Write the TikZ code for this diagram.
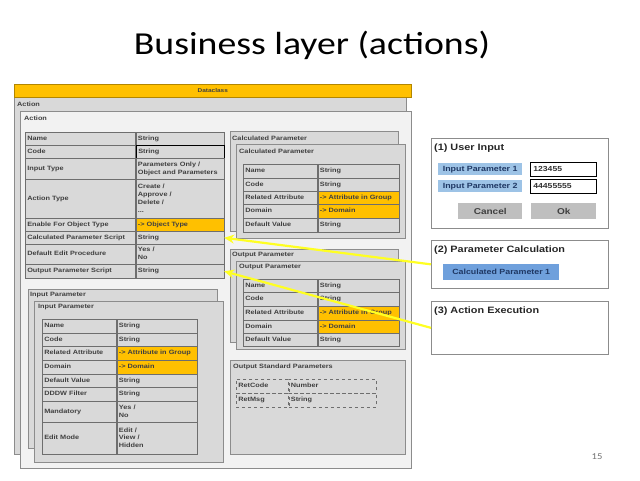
\documentclass[tikz,border=0pt]{standalone}
\usepackage{fontspec}
\setmainfont[FakeStretch=1.18]{Liberation Sans}
\newfontfamily\titlefont[FakeStretch=1.18]{Carlito}
\usepackage{tikz}
\usetikzlibrary{arrows.meta}
\definecolor{classbar}{HTML}{FFC000}
\definecolor{boxgray}{HTML}{D9D9D9}
\definecolor{boxlight}{HTML}{F2F2F2}
\definecolor{boxline}{HTML}{8C8C8C}
\definecolor{cellline}{HTML}{6E6E6E}
\definecolor{tabtext}{HTML}{404040}
\definecolor{reforange}{HTML}{FFC000}
\definecolor{parblue}{HTML}{9DC3E6}
\definecolor{calcblue}{HTML}{6FA0DC}
\definecolor{navytext}{HTML}{1F3864}
\definecolor{hintyellow}{HTML}{FFFF22}
\newcommand{\tabfont}{\fontsize{6.2}{7.8}\selectfont\bfseries}
\tikzset{
  frm/.style 2 args={rectangle, draw=boxline, fill=boxgray, line width=0.6pt,
              anchor=north west, inner sep=0pt, minimum width=#1pt, minimum height=#2pt},
  frmlight/.style 2 args={frm={#1}{#2}, fill=boxlight},
  cell/.style 2 args={rectangle, draw=cellline, fill=boxgray, line width=0.6pt,
              anchor=north west, inner xsep=2pt, inner ysep=0pt, text width=#1pt-4pt,
              minimum height=#2pt, align=left, font=\tabfont, text=tabtext,
              execute at begin node=\strut, execute at end node=\strut},
  refcell/.style 2 args={cell={#1}{#2}, fill=reforange},
  stdcell/.style 2 args={cell={#1}{#2}, fill=none, dashed},
  hdr/.style={anchor=west, inner sep=0pt, font=\tabfont, text=tabtext},
  panel/.style 2 args={rectangle, draw=boxline, fill=white, line width=0.7pt,
              anchor=north west, inner sep=0pt, minimum width=#1pt, minimum height=#2pt},
  ptitle/.style={anchor=west, inner sep=0pt, font=\fontsize{9.2}{10}\selectfont\bfseries, text=black!85},
  parlbl/.style 2 args={rectangle, fill=parblue, anchor=north west, inner sep=0pt,
              minimum width=#1pt, minimum height=#2pt, font=\fontsize{7.5}{8}\selectfont\bfseries, text=navytext},
  field/.style 2 args={rectangle, draw=black, fill=white, line width=0.7pt, anchor=north west,
              inner xsep=3pt, inner ysep=0pt, text width=#1pt-6pt, minimum height=#2pt,
              align=left, font=\fontsize{7.3}{8}\selectfont\bfseries, text=black!80},
  btn/.style 2 args={rectangle, fill=black!25, anchor=north west, inner sep=0pt,
              minimum width=#1pt, minimum height=#2pt, font=\fontsize{8.5}{9}\selectfont\bfseries, text=black!75},
  hint/.style={-{Stealth[length=10pt, width=9pt]}, line width=2.2pt, hintyellow},
}

\begin{document}
\begin{tikzpicture}[x=1pt, y=-1pt]
  \useasboundingbox[fill=white] (0,0) rectangle (640,480);
  % title
  \node[font=\titlefont\fontsize{32}{38}\selectfont] (title) at (312,45) {Business layer (actions)};
  % dataclass and action frames
  \node[frm={392}{357}] (actouter) at (14,97) {};
  \node[frm={397}{13}, fill=classbar, draw=classbar!70!black] (dclass) at (14,84) {};
  \node[font=\fontsize{5.5}{6}\selectfont\bfseries, text=tabtext] (dclasslbl) at (dclass.center) {Dataclass};
  \node[hdr] (actouterlbl) at (17,104) {Action};
  \node[frmlight={391}{357}] (actinner) at (20,111) {};
  \node[hdr] (actinnerlbl) at (24,118) {Action};
  % action table
  \node[cell={110}{13}] (actnamek) at (25,132) {Name};
  \node[cell={88}{13}] (actnamev) at (actnamek.north east) {String};
  \node[cell={110}{13}] (actcodek) at (25,145) {Code};
  \node[cell={88}{13}, draw=black, line width=1.3pt] (actcodev) at (actcodek.north east) {String};
  \node[cell={110}{21}] (acttypek) at (25,158) {Input Type};
  \node[cell={88}{21}] (acttypev) at (acttypek.north east) {Parameters Only /\\Object and Parameters};
  \node[cell={110}{39}] (actkindk) at (25,179) {Action Type};
  \node[cell={88}{39}] (actkindv) at (actkindk.north east) {Create /\\Approve /\\Delete /\\...};
  \node[cell={110}{13}] (actobjk) at (25,218) {Enable For Object Type};
  \node[refcell={88}{13}] (actobjv) at (actobjk.north east) {-> Object Type};
  \node[cell={110}{13}] (actcalck) at (25,231) {Calculated Parameter Script};
  \node[cell={88}{13}] (actcalcv) at (actcalck.north east) {String};
  \node[cell={110}{20}] (actedk) at (25,244) {Default Edit Procedure};
  \node[cell={88}{20}] (actedv) at (actedk.north east) {Yes /\\No};
  \node[cell={110}{14}] (actoutk) at (25,264) {Output Parameter Script};
  \node[cell={88}{14}] (actoutv) at (actoutk.north east) {String};
  % calculated parameter
  \node[frm={168}{100}] (calcouter) at (230,131) {};
  \node[hdr] (calcouterlbl) at (232,138) {Calculated Parameter};
  \node[frm={169}{94}] (calcinner) at (236,144) {};
  \node[hdr] (calcinnerlbl) at (239,151) {Calculated Parameter};
  \node[cell={74}{14}] (calcnamek) at (243,164) {Name};
  \node[cell={81}{14}] (calcnamev) at (calcnamek.north east) {String};
  \node[cell={74}{13}] (calccodek) at (243,178) {Code};
  \node[cell={81}{13}] (calccodev) at (calccodek.north east) {String};
  \node[cell={74}{13}] (calcrelk) at (243,191) {Related Attribute};
  \node[refcell={81}{13}] (calcrelv) at (calcrelk.north east) {-> Attribute in Group};
  \node[cell={74}{14}] (calcdomk) at (243,204) {Domain};
  \node[refcell={81}{14}] (calcdomv) at (calcdomk.north east) {-> Domain};
  \node[cell={74}{14}] (calcdefk) at (243,218) {Default Value};
  \node[cell={81}{14}] (calcdefv) at (calcdefk.north east) {String};
  % output parameter
  \node[frm={168}{93}] (outouter) at (230,249) {};
  \node[hdr] (outouterlbl) at (232,255) {Output Parameter};
  \node[frm={169}{88}] (outinner) at (236,261) {};
  \node[hdr] (outinnerlbl) at (239,267) {Output Parameter};
  \node[cell={74}{13}] (outnamek) at (243,279) {Name};
  \node[cell={81}{13}] (outnamev) at (outnamek.north east) {String};
  \node[cell={74}{14}] (outcodek) at (243,292) {Code};
  \node[cell={81}{14}] (outcodev) at (outcodek.north east) {String};
  \node[cell={74}{14}] (outrelk) at (243,306) {Related Attribute};
  \node[refcell={81}{14}] (outrelv) at (outrelk.north east) {-> Attribute in Group};
  \node[cell={74}{13}] (outdomk) at (243,320) {Domain};
  \node[refcell={81}{13}] (outdomv) at (outdomk.north east) {-> Domain};
  \node[cell={74}{13}] (outdefk) at (243,333) {Default Value};
  \node[cell={81}{13}] (outdefv) at (outdefk.north east) {String};
  % output standard parameters
  \node[frm={175}{94}] (stdpar) at (230,360) {};
  \node[hdr] (stdparlbl) at (233,367) {Output Standard Parameters};
  \node[stdcell={52}{14}] (stdcodek) at (236,379) {RetCode};
  \node[stdcell={87}{14}] (stdcodev) at (stdcodek.north east) {Number};
  \node[stdcell={52}{14}] (stdmsgk) at (236,393) {RetMsg};
  \node[stdcell={87}{14}] (stdmsgv) at (stdmsgk.north east) {String};
  % input parameter
  \node[frm={189}{159}] (inouter) at (28,289) {};
  \node[hdr] (inouterlbl) at (30,295) {Input Parameter};
  \node[frm={189}{161}] (ininner) at (34,301) {};
  \node[hdr] (ininnerlbl) at (38,307) {Input Parameter};
  \node[cell={74}{14}] (innamek) at (42,319) {Name};
  \node[cell={80}{14}] (innamev) at (innamek.north east) {String};
  \node[cell={74}{13}] (incodek) at (42,333) {Code};
  \node[cell={80}{13}] (incodev) at (incodek.north east) {String};
  \node[cell={74}{14}] (inrelk) at (42,346) {Related Attribute};
  \node[refcell={80}{14}] (inrelv) at (inrelk.north east) {-> Attribute in Group};
  \node[cell={74}{14}] (indomk) at (42,360) {Domain};
  \node[refcell={80}{14}] (indomv) at (indomk.north east) {-> Domain};
  \node[cell={74}{13}] (indefk) at (42,374) {Default Value};
  \node[cell={80}{13}] (indefv) at (indefk.north east) {String};
  \node[cell={74}{14}] (indddwk) at (42,387) {DDDW Filter};
  \node[cell={80}{14}] (indddwv) at (indddwk.north east) {String};
  \node[cell={74}{21}] (inmandk) at (42,401) {Mandatory};
  \node[cell={80}{21}] (inmandv) at (inmandk.north east) {Yes /\\No};
  \node[cell={74}{32}] (ineditk) at (42,422) {Edit Mode};
  \node[cell={80}{32}] (ineditv) at (ineditk.north east) {Edit /\\View /\\Hidden};
  % right hand panels
  \node[panel={177}{90}] (uinput) at (431,138) {};
  \node[ptitle] (uinputlbl) at (434,148) {(1) User Input};
  \node[parlbl={84}{12}] (par1) at (438,163) {Input Parameter 1};
  \node[field={66}{14}] (par1val) at (530,162) {123455};
  \node[parlbl={84}{12}] (par2) at (438,180) {Input Parameter 2};
  \node[field={66}{14}] (par2val) at (530,179) {44455555};
  \node[btn={64}{16}] (cancel) at (458,203) {Cancel};
  \node[btn={65}{16}] (ok) at (531,203) {Ok};
  \node[panel={177}{48}] (pcalc) at (431,240) {};
  \node[ptitle] (pcalclbl) at (434,250) {(2) Parameter Calculation};
  \node[parlbl={116}{16}, fill=calcblue] (cpar1) at (443,264) {Calculated Parameter 1};
  \node[panel={177}{53}] (aexec) at (431,301) {};
  \node[ptitle] (aexeclbl) at (434,311) {(3) Action Execution};
  % links
  \draw[hint] (pcalc.west) -- (actcalcv.east);
  \draw[hint] (aexec.west) -- (actoutv.east);
  \node[font=\titlefont\fontsize{9}{10}\selectfont, text=black!55] (pageno) at (597,457) {15};
\end{tikzpicture}
\end{document}
